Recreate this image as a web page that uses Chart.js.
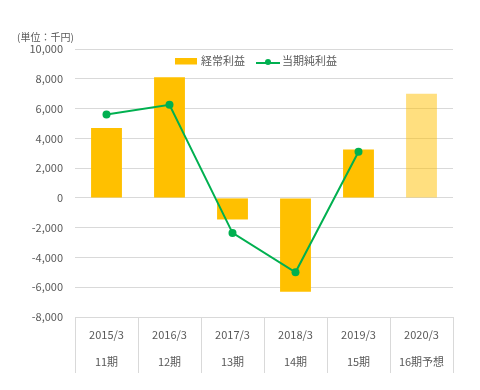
<!DOCTYPE html>
<html><head><meta charset="utf-8">
<script src="https://cdn.jsdelivr.net/npm/chart.js@4"></script>
<style>html,body{margin:0;padding:0;background:#fff}#wrap{width:480px;height:390px}</style>
</head><body><div id="wrap"><canvas id="c" width="480" height="390"></canvas></div>
<script>
const years = ['2015/3','2016/3','2017/3','2018/3','2019/3','2020/3'];
const periods = ['11期','12期','13期','14期','15期','16期予想'];
const ordinaryProfit = [4700, 8100, -1450, -6300, 3250, 7000];
const netProfit = [5600, 6250, -2350, -5000, 3100, null];
const seriesNames = ['経常利益','当期純利益'];
const unitLabel = '(単位：千円)';

const FONT = "'Noto Sans CJK JP', 'Noto Sans', sans-serif";
const TXT = '#595959';
const GRID = '#d9d9d9';
const ORANGE = '#FFC000';
const ORANGE_LIGHT = 'rgba(255,192,0,0.5)';
const GREEN = '#00B050';

const unitPlugin={id:'unit',afterDraw(chart){const ctx=chart.ctx;ctx.save();ctx.font='10px '+FONT;ctx.fillStyle=TXT;ctx.textBaseline='middle';ctx.textAlign='left';ctx.fillText(unitLabel,17,37);ctx.restore();}};

// legend drawn in the plot area, above the data
const legendPlugin={id:'inLegend',afterDatasetsDraw(chart){
  const ctx=chart.ctx, ca=chart.chartArea;
  ctx.save();ctx.font='11px '+FONT;ctx.textBaseline='middle';
  const w0=ctx.measureText(seriesNames[0]).width, w1=ctx.measureText(seriesNames[1]).width;
  const total=22+4+w0+11+24+2+w1;
  let x=(ca.left+ca.right)/2-8-total/2; const y=ca.top+12;
  ctx.fillStyle=ORANGE;ctx.fillRect(x,y-3,22,6.5);x+=22+4;
  ctx.fillStyle=TXT;ctx.fillText(seriesNames[0],x,y);x+=w0+11;
  ctx.strokeStyle=GREEN;ctx.lineWidth=2;ctx.beginPath();ctx.moveTo(x,y+2);ctx.lineTo(x+24,y+2);ctx.stroke();
  ctx.fillStyle=GREEN;ctx.beginPath();ctx.arc(x+12,y+1,3,0,Math.PI*2);ctx.fill();x+=24+2;
  ctx.fillStyle=TXT;ctx.fillText(seriesNames[1],x,y);
  ctx.restore();
}};

new Chart(document.getElementById('c'),{
  data:{
    labels: years.map((y,i)=>[y,periods[i]]),
    datasets:[
      {type:'line',label:seriesNames[1],data:netProfit,borderColor:GREEN,backgroundColor:GREEN,borderWidth:2,pointRadius:4,pointBackgroundColor:GREEN,pointBorderWidth:0,order:0,tension:0},
      {type:'bar',label:seriesNames[0],data:ordinaryProfit,backgroundColor:ordinaryProfit.map((v,i)=>i===ordinaryProfit.length-1?ORANGE_LIGHT:ORANGE),categoryPercentage:1,barPercentage:0.49,order:1}
    ]
  },
  options:{
    responsive:false,animation:false,
    layout:{padding:{left:0,right:27,top:49,bottom:17}},
    plugins:{tooltip:{enabled:false},legend:{display:false}},
    scales:{
      x:{
        grid:{offset:true,drawOnChartArea:false,drawTicks:true,tickLength:56,color:GRID},
        border:{display:true,color:GRID},
        ticks:{font:{family:FONT,size:11,lineHeight:2.4},color:TXT,padding:-51,maxRotation:0,autoSkip:false},
        afterFit(s){s.height=56;}
      },
      y:{
        min:-8000,max:10000,
        grid:{color:GRID,drawTicks:false},
        border:{display:false},
        ticks:{stepSize:2000,font:{family:FONT,size:11},color:TXT,padding:12,
          callback:v=>v.toLocaleString('en-US')},
        afterFit(s){s.width=75;}
      }
    }
  },
  plugins:[unitPlugin,legendPlugin]
});
</script></body></html>
